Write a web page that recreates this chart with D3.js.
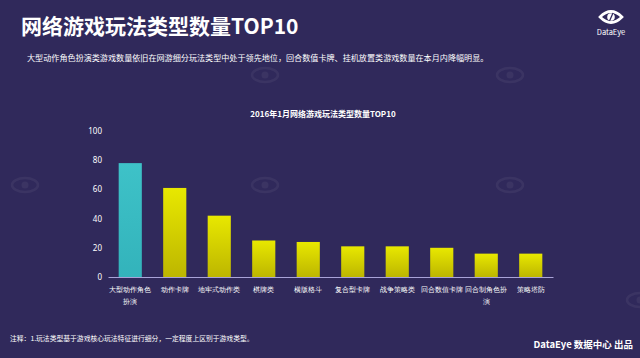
<!DOCTYPE html>
<html><head><meta charset="utf-8">
<script src="https://cdn.jsdelivr.net/npm/d3@7"></script>
<style>
html,body{margin:0;padding:0;background:#30295b;}
svg{display:block;font-family:"Noto Sans CJK SC","Noto Sans",sans-serif;}
</style></head><body>
<svg id="c" width="640" height="358"></svg>
<script>
const categories = ["大型动作角色扮演","动作卡牌","地牢式动作类","棋牌类","横版格斗","复合型卡牌","战争策略类","回合数值卡牌","回合制角色扮演","策略塔防"];
const labelLines = [["大型动作角色","扮演"],["动作卡牌"],["地牢式动作类"],["棋牌类"],["横版格斗"],["复合型卡牌"],["战争策略类"],["回合数值卡牌"],["回合制角色扮","演"],["策略塔防"]];
const values = [78, 61, 42, 25, 24, 21, 21, 20, 16, 16];
const yTicks = [0, 20, 40, 60, 80, 100];

const svg = d3.select("#c");
const W = 640, H = 358;
svg.append("rect").attr("width", W).attr("height", H).attr("fill", "#30295b");

const defs = svg.append("defs");
const g1 = defs.append("linearGradient").attr("id","yel").attr("x1",0).attr("y1",0).attr("x2",0).attr("y2",1);
g1.append("stop").attr("offset","0%").attr("stop-color","#e8e800");
g1.append("stop").attr("offset","100%").attr("stop-color","#bdb600");
const g2 = defs.append("linearGradient").attr("id","teal").attr("x1",0).attr("y1",0).attr("x2",0).attr("y2",1);
g2.append("stop").attr("offset","0%").attr("stop-color","#3ec2c8");
g2.append("stop").attr("offset","100%").attr("stop-color","#33b3bb");

// faint watermark eyes (no text)
const wm = [[25,185],[265,185],[510,185],[265,75],[510,75],[640,300]];
wm.forEach(([x,y])=>{
  const g = svg.append("g").attr("transform",`translate(${x},${y})`).attr("opacity",0.05);
  g.append("ellipse").attr("rx",13).attr("ry",7).attr("fill","none").attr("stroke","#fff").attr("stroke-width",2.5);
  g.append("circle").attr("r",3.5).attr("fill","#fff");
});

// Header
svg.append("text").attr("x",21).attr("y",34).attr("fill","#fff").attr("font-size",21).attr("font-weight","bold").text("网络游戏玩法类型数量TOP10");
svg.append("text").attr("x",27).attr("y",61).attr("fill","#fff").attr("font-size",8.1).text("大型动作角色扮演类游戏数量依旧在网游细分玩法类型中处于领先地位，回合数值卡牌、挂机放置类游戏数量在本月内降幅明显。");

// Logo
const lg = svg.append("g").attr("transform","translate(611,17)");
lg.append("path").attr("d","M-11,0 Q0,-11 11,0 Q0,11 -11,0 Z").attr("fill","none").attr("stroke","#fff").attr("stroke-width",2.6);
lg.append("circle").attr("r",3.8).attr("fill","#fff");
lg.append("line").attr("x1",-1.5).attr("y1",4).attr("x2",2).attr("y2",-4).attr("stroke","#30295b").attr("stroke-width",1.2);
svg.append("text").attr("x",611).attr("y",35).attr("text-anchor","middle").attr("fill","#fff").attr("font-size",7.5).text("DataEye");

// Chart title
svg.append("text").attr("x",323).attr("y",117).attr("text-anchor","middle").attr("fill","#fff").attr("font-size",8).attr("font-weight","bold").text("2016年1月网络游戏玩法类型数量TOP10");

// Scales
const x = d3.scaleBand().domain(categories).range([108, 553]).paddingInner(0.48).paddingOuter(0.24);
const y = d3.scaleLinear().domain([0, 100]).range([277, 131]);

// Y axis
const ya = svg.append("g").attr("transform","translate(102,0)")
  .call(d3.axisLeft(y).tickValues(yTicks).tickSize(0).tickPadding(0));
ya.select(".domain").remove();
ya.selectAll("text").attr("fill","#ffffff").attr("font-size",8).attr("font-family","'Noto Sans','DejaVu Sans',sans-serif");

// Bars
svg.append("g").selectAll("rect").data(values).join("rect")
  .attr("x",(d,i)=>x(categories[i]))
  .attr("y",d=>y(d))
  .attr("width",x.bandwidth())
  .attr("height",d=>y(0)-y(d))
  .attr("fill",(d,i)=> i===0 ? "url(#teal)" : "url(#yel)");

// X axis
const xa = svg.append("g").attr("transform",`translate(0,${y(0)})`)
  .call(d3.axisBottom(x).tickSize(0).tickFormat(""));
xa.select(".domain").attr("stroke","#a9a3d8").attr("stroke-width",1.2);
xa.selectAll(".tick").each(function(d,i){
  const t = d3.select(this).select("text").attr("fill","#fff").attr("font-size",7.4).attr("y",0).attr("dy",null);
  labelLines[i].forEach((ln,k)=>{
    t.append("tspan").attr("x",0).attr("y",15 + k*12).text(ln);
  });
});

// Footer
svg.append("text").attr("x",10).attr("y",341).attr("fill","#fff").attr("font-size",6.8).text("注释：1.玩法类型基于游戏核心玩法特征进行细分，一定程度上区别于游戏类型。");
svg.append("text").attr("x",633).attr("y",348).attr("text-anchor","end").attr("fill","#fff").attr("font-size",9.5).attr("font-weight","bold").text("DataEye 数据中心 出品");
</script>
</body></html>
